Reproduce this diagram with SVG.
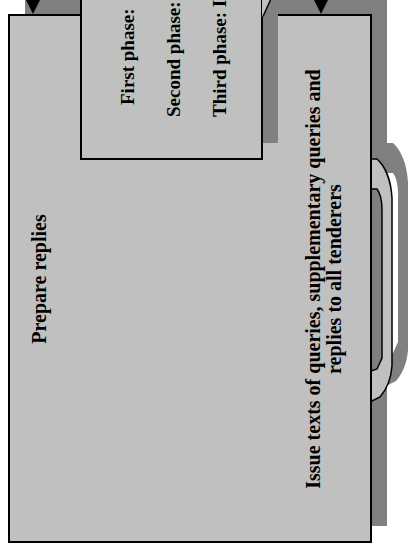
<svg xmlns="http://www.w3.org/2000/svg" width="409" height="551" viewBox="0 0 409 551">
<style>
.box{fill:#c0c0c0;stroke:#000;stroke-width:2}
.shadow{fill:#808080;stroke:none}
.lbl{font-family:"Liberation Serif","Times New Roman",serif;font-weight:bold;font-size:20px;fill:#000}
.ph{font-size:19px}
.conn{stroke:#000;stroke-width:1.5;fill:none}
.head{fill:#000}
</style>
<rect width="409" height="551" fill="#fff"/>
<g id="outer">
<rect class="shadow" x="25" y="-2" width="362" height="528"/>
<rect class="box" x="9" y="15" width="362" height="527"/>
<text class="lbl" x="46" y="279" transform="rotate(-90 46 279)" text-anchor="middle">Prepare replies</text>
<text class="lbl" x="320" y="279" transform="rotate(-90 320 279)" text-anchor="middle">Issue texts of queries, supplementary queries and</text>
<text class="lbl" x="341" y="279" transform="rotate(-90 341 279)" text-anchor="middle">replies to all tenderers</text>
</g>
<g id="phases">
<rect class="shadow" x="97" y="-40" width="181" height="183"/>
<rect class="box" x="81" y="-20" width="181" height="179"/>
<text class="lbl ph" x="134" y="105" transform="rotate(-90 134 105)">First phase:</text>
<text class="lbl ph" x="180" y="117" transform="rotate(-90 180 117)">Second phase:</text>
<text class="lbl ph" x="226" y="117" transform="rotate(-90 226 117)">Third phase: I</text>
</g>
<g id="loop">
<path class="shadow" fill-rule="evenodd" transform="translate(16 -16)" d="M371,159 L377,159 C385,166 391,180 392,198 L392,366 C391,380 386,390 380,397 L372,401 L371,401 Z M371,189 L377,189 C380,193 382,200 382,210 L382,358 L377,369 L371,371 Z"/>
<path fill="#c0c0c0" stroke="#000" stroke-width="1.5" fill-rule="evenodd" d="M371,159 L377,159 C385,166 391,180 392,198 L392,366 C391,380 386,390 380,397 L372,401 L371,401 Z M371,189 L377,189 C380,193 382,200 382,210 L382,358 L377,369 L371,371 Z"/>
<line x1="371" y1="150" x2="371" y2="410" stroke="#000" stroke-width="2"/>
</g>
<g id="connectors">
<polygon points="262,0 270.5,0 263,16.5 262,16.5" fill="#c0c0c0"/>
<line class="conn" x1="270.5" y1="0" x2="263" y2="16.5"/>
<line class="conn" x1="33" y1="-30" x2="33" y2="2"/>
<polygon class="head" points="26,0 40,0 33,14"/>
<line class="conn" x1="321" y1="-30" x2="321" y2="2"/>
<polygon class="head" points="314,0 328,0 321,14"/>
</g>
</svg>
